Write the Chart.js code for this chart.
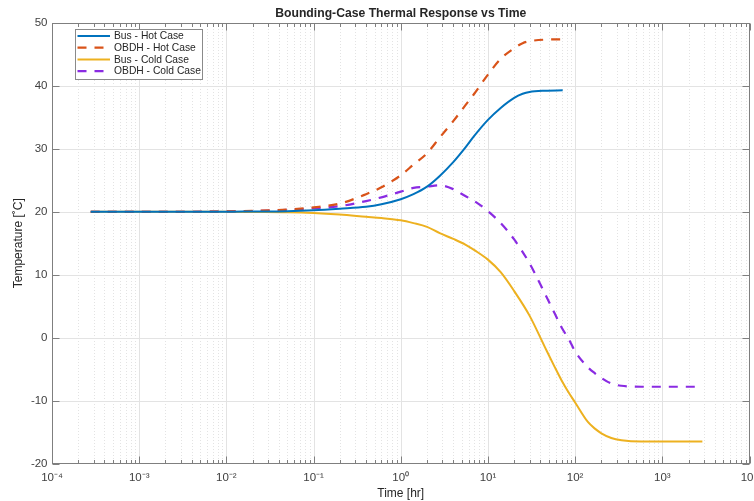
<!DOCTYPE html>
<html><head><meta charset="utf-8">
<script src="https://cdn.jsdelivr.net/npm/chart.js@4.4.1/dist/chart.umd.min.js"></script>
<style>html,body{margin:0;padding:0;background:#fff;}#wrap{width:754px;height:501px;}</style>
</head><body><div id="wrap"><canvas id="c" width="754" height="501"></canvas></div>
<script>
// ---- data (time in hours, temperature in deg C) ----
const timeHot  = [0.000278, 0.001, 0.003, 0.01, 0.02, 0.05, 0.1, 0.2, 0.4, 0.6, 1, 1.4, 2, 2.8, 4, 5.5, 7, 10, 14, 20, 25, 30, 45, 72];
const busHot   = [20, 20, 20, 20, 20.05, 20.1, 20.25, 20.5, 20.8, 21.2, 22.0, 22.8, 24.0, 25.7, 27.9, 30.2, 32.1, 34.6, 36.5, 38.1, 38.75, 39.05, 39.25, 39.3];
const obdhHot  = [20, 20, 20, 20.05, 20.15, 20.35, 20.7, 21.3, 22.8, 23.9, 25.8, 27.5, 29.3, 31.8, 34.4, 36.9, 38.8, 41.8, 44.3, 46.0, 46.8, 47.1, 47.35, 47.4];
const timeCold = [0.000278, 0.001, 0.003, 0.01, 0.02, 0.05, 0.1, 0.2, 0.4, 0.6, 1, 1.4, 2, 2.8, 4, 5.5, 7, 10, 14, 20, 30, 45, 58, 70, 85, 100, 140, 170, 200, 260, 340, 575, 1000, 2880];
const busCold  = [20, 20, 20, 20, 19.97, 19.93, 19.8, 19.55, 19.2, 19.0, 18.65, 18.2, 17.6, 16.6, 15.7, 14.8, 13.9, 12.4, 10.4, 7.4, 3.5, -1.5, -4.6, -6.8, -8.8, -10.3, -13.4, -14.5, -15.2, -15.95, -16.3, -16.5, -16.5, -16.5];
const obdhCold = [20, 20, 20, 20.05, 20.1, 20.3, 20.55, 20.9, 21.7, 22.3, 23.2, 23.8, 24.0, 24.2, 23.6, 22.5, 21.7, 20.1, 18.2, 15.6, 11.8, 7.0, 3.9, 1.6, -0.3, -2.2, -4.7, -5.7, -6.4, -7.3, -7.65, -7.8, -7.8, -7.8];
const seriesNames = ['Bus - Hot Case', 'OBDH - Hot Case', 'Bus - Cold Case', 'OBDH - Cold Case'];
const xTickValues = [1e-4, 1e-3, 1e-2, 1e-1, 1e0, 1e1, 1e2, 1e3, 1e4];
const xTickLabels = ['10\u207B\u2074', '10\u207B\u00B3', '10\u207B\u00B2', '10\u207B\u00B9', '10\u2070', '10\u00B9', '10\u00B2', '10\u00B3', '10\u2074'];
const yTickValues = [-20, -10, 0, 10, 20, 30, 40, 50];
const chartTitle = 'Bounding-Case Thermal Response vs Time';
const xTitle = 'Time [hr]';
const yTitle = 'Temperature [\u02DAC]';

const FONT = '"Liberation Sans", Arial, Helvetica, sans-serif';
const pts = (t, v) => t.map((x, i) => ({x: x, y: v[i]}));

// all ticks 1..9 x 10^n for the log axis
const allXTicks = [];
for (let e = -4; e <= 4; e++) {
  for (let m = 1; m <= 9; m++) {
    if (e === 4 && m > 1) break;
    allXTicks.push(+(m * Math.pow(10, e)).toPrecision(6));
  }
}
const isMajorX = v => xTickValues.some(d => Math.abs(v / d - 1) < 1e-6);

const matlabAxes = {
  id: 'matlabAxes',
  beforeDatasetsDraw(chart) {
    const {ctx, chartArea: a, scales: {x, y}} = chart;
    ctx.save();
    ctx.beginPath(); ctx.rect(a.left, a.top, a.right - a.left, a.bottom - a.top); ctx.clip();
    ctx.lineWidth = 1;
    ctx.strokeStyle = 'rgba(0,0,0,0.11)';
    ctx.setLineDash([1, 2]);
    allXTicks.forEach(v => {
      if (isMajorX(v)) return;
      const px = Math.round(x.getPixelForValue(v)) + 0.5;
      ctx.beginPath(); ctx.moveTo(px, a.top); ctx.lineTo(px, a.bottom); ctx.stroke();
    });
    ctx.setLineDash([]);
    ctx.strokeStyle = '#e3e3e3';
    xTickValues.forEach(v => {
      const px = Math.round(x.getPixelForValue(v)) + 0.5;
      ctx.beginPath(); ctx.moveTo(px, a.top); ctx.lineTo(px, a.bottom); ctx.stroke();
    });
    yTickValues.forEach(v => {
      const py = Math.round(y.getPixelForValue(v)) + 0.5;
      ctx.beginPath(); ctx.moveTo(a.left, py); ctx.lineTo(a.right, py); ctx.stroke();
    });
    ctx.restore();
  },
  afterDatasetsDraw(chart) {
    const {ctx, chartArea: a, scales: {x, y}} = chart;
    ctx.save();
    // title centred over the axes
    ctx.fillStyle = '#262626';
    ctx.font = 'bold 12.2px ' + FONT;
    ctx.textAlign = 'center';
    ctx.textBaseline = 'middle';
    ctx.fillText(chartTitle, (a.left + a.right) / 2, 13.5);

    ctx.strokeStyle = '#7f7f7f';
    ctx.lineWidth = 1;
    const L = Math.round(a.left) + 0.5, R = Math.round(a.right) - 0.5;
    const T = Math.round(a.top) + 0.5, B = Math.round(a.bottom) - 0.5;
    ctx.strokeRect(L, T, R - L, B - T);
    allXTicks.forEach(v => {
      const len = isMajorX(v) ? 7 : 3.5;
      const px = Math.round(x.getPixelForValue(v)) + 0.5;
      ctx.beginPath();
      ctx.moveTo(px, B); ctx.lineTo(px, B - len);
      ctx.moveTo(px, T); ctx.lineTo(px, T + len);
      ctx.stroke();
    });
    yTickValues.forEach(v => {
      const py = Math.round(y.getPixelForValue(v)) + 0.5;
      ctx.beginPath();
      ctx.moveTo(L, py); ctx.lineTo(L + 7, py);
      ctx.moveTo(R, py); ctx.lineTo(R - 7, py);
      ctx.stroke();
    });
    // legend box inside plot area (north-west)
    const bx = 75.5, by = 29.5, bw = 127, bh = 50;
    ctx.fillStyle = '#ffffff';
    ctx.fillRect(bx, by, bw, bh);
    ctx.strokeStyle = '#8a8a8a';
    ctx.strokeRect(bx, by, bw, bh);
    const rows = [36, 47.7, 59.4, 71.1];
    ctx.font = '10.3px ' + FONT;
    ctx.textBaseline = 'middle';
    ctx.textAlign = 'left';
    chart.data.datasets.forEach((ds, i) => {
      ctx.strokeStyle = ds.borderColor;
      ctx.lineWidth = ds.borderWidth;
      ctx.setLineDash(ds.borderDash || []);
      ctx.beginPath(); ctx.moveTo(77.5, rows[i]); ctx.lineTo(110, rows[i]); ctx.stroke();
      ctx.setLineDash([]);
      ctx.fillStyle = '#262626';
      ctx.fillText(ds.label, 114, rows[i] + 0.5);
    });
    ctx.restore();
  }
};

new Chart(document.getElementById('c'), {
  type: 'line',
  data: {
    datasets: [
      {label: seriesNames[0], data: pts(timeHot, busHot), borderColor: '#0072BD', borderWidth: 2},
      {label: seriesNames[1], data: pts(timeHot, obdhHot), borderColor: '#D95319', borderWidth: 2.2, borderDash: [9, 8]},
      {label: seriesNames[2], data: pts(timeCold, busCold), borderColor: '#EDB120', borderWidth: 2},
      {label: seriesNames[3], data: pts(timeCold, obdhCold), borderColor: '#8A2BE2', borderWidth: 2.2, borderDash: [9, 8]}
    ]
  },
  options: {
    responsive: false,
    animation: false,
    devicePixelRatio: 1,
    layout: {padding: {left: 0, right: 4.5, top: 23, bottom: 0}},
    elements: {
      point: {radius: 0, hoverRadius: 0},
      line: {cubicInterpolationMode: 'monotone', borderCapStyle: 'butt', fill: false}
    },
    plugins: {
      legend: {display: false},
      tooltip: {enabled: false},
      title: {display: false}
    },
    scales: {
      x: {
        type: 'logarithmic', min: 1e-4, max: 1e4,
        afterBuildTicks: s => { s.ticks = allXTicks.map(v => ({value: v, major: isMajorX(v)})); },
        afterFit: s => { s.height = 37.5; s.paddingLeft = 0; s.paddingRight = 0; },
        grid: {display: false, drawTicks: false, tickLength: 0},
        border: {display: false},
        ticks: {
          autoSkip: false, maxRotation: 0, minRotation: 0, padding: 7,
          color: '#404040', font: {family: FONT, size: 11.5},
          callback: v => { const i = xTickValues.findIndex(d => Math.abs(v / d - 1) < 1e-6); return i >= 0 ? xTickLabels[i] : ''; }
        },
        title: {display: true, text: xTitle, color: '#262626', font: {family: FONT, size: 12}, padding: {top: 0, bottom: 0.5}}
      },
      y: {
        type: 'linear', min: -20, max: 50,
        afterBuildTicks: s => { s.ticks = yTickValues.map(v => ({value: v})); },
        afterFit: s => { s.width = 52; s.paddingTop = 0; s.paddingBottom = 0; },
        grid: {display: false, drawTicks: false, tickLength: 0},
        border: {display: false},
        ticks: {padding: 4.5, color: '#404040', font: {family: FONT, size: 11.5}, callback: v => String(v)},
        title: {display: true, text: yTitle, color: '#262626', font: {family: FONT, size: 12}, padding: {top: 11, bottom: 0}}
      }
    }
  },
  plugins: [matlabAxes]
});
</script>
</body></html>
